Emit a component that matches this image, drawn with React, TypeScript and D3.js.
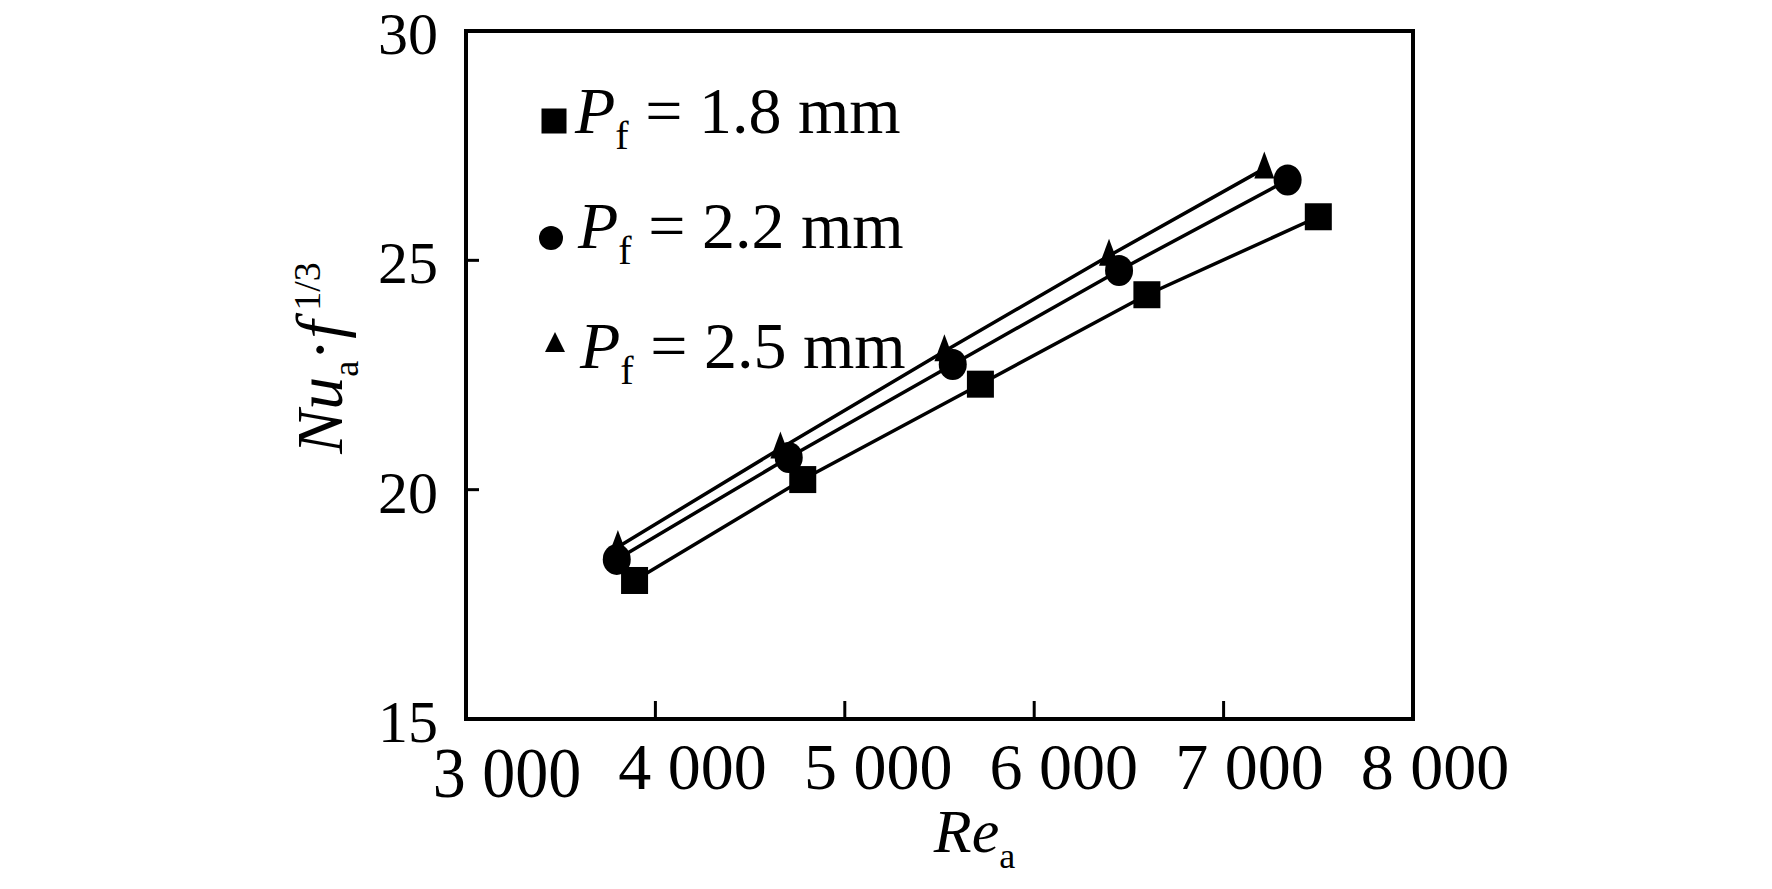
import React from "react";
import * as d3 from "d3";

// Re_a vs Nu_a·f^(1/3) for three fin pitches
const seriesNames = ["1.8", "2.2", "2.5"];
const markerKinds = ["square", "circle", "triangle"];

const reSquare = [3890, 4778, 5716, 6595, 7500];
const nuSquare = [18.02, 20.22, 22.3, 24.25, 25.95];

const reCircle = [3796, 4704, 5570, 6448, 7338];
const nuCircle = [18.48, 20.7, 22.73, 24.78, 26.75];

const reTriangle = [3802, 4660, 5526, 6395, 7215];
const nuTriangle = [18.75, 20.9, 23.02, 25.1, 27.0];

const xTicks = [3000, 4000, 5000, 6000, 7000, 8000];
const xTickLabels = ["3 000", "4 000", "5 000", "6 000", "7 000", "8 000"];
const yTicks = [15, 20, 25, 30];
const yTickLabels = ["15", "20", "25", "30"];

const W = 1772;
const H = 889;
const plot = { left: 466, right: 1413, top: 31, bottom: 719 };
const FONT = "'Liberation Serif', 'Times New Roman', serif";

const x = d3.scaleLinear().domain([3000, 8000]).range([plot.left, plot.right]);
const y = d3.scaleLinear().domain([15, 30]).range([plot.bottom, plot.top]);
// tick labels in the source sit a little right of their ticks
const xLabel = d3.scaleLinear().domain([3000, 8000]).range([x(3000) + 41, x(8000) + 22]);

function Marker({ kind, cx, cy, legend }: { kind: string; cx: number; cy: number; legend?: boolean }) {
  if (kind === "square") {
    const s = legend ? 25 : 27;
    return <rect x={cx - s / 2} y={cy - s / 2} width={s} height={s} fill="#000" />;
  }
  if (kind === "circle") {
    return legend ? <circle cx={cx} cy={cy} r={12} fill="#000" /> : <ellipse cx={cx} cy={cy} rx={14} ry={15.5} fill="#000" />;
  }
  const w = 20;
  const up = legend ? 11 : 17;
  const down = legend ? 9 : 10;
  return <path d={`M${cx},${cy - up}L${cx + w / 2},${cy + down}L${cx - w / 2},${cy + down}Z`} fill="#000" />;
}

export default function App() {
  const series = [
    { kind: "triangle", re: reTriangle, nu: nuTriangle },
    { kind: "circle", re: reCircle, nu: nuCircle },
    { kind: "square", re: reSquare, nu: nuSquare },
  ];
  const line = d3
    .line<[number, number]>()
    .x((d) => x(d[0]))
    .y((d) => y(d[1]));

  const legendBaselines = [133, 248, 368];
  const legendMarkerY = [121, 238, 343];
  const legendMarkerX = [554, 551, 555];
  const legendTextX = [575, 578, 580];

  return (
    <svg width={W} height={H} style={{ position: "absolute", left: 0, top: 0, background: "#fff" }} fontFamily={FONT}>
      <rect width={W} height={H} fill="#fff" />

      {/* data lines */}
      {series.map((s) => (
        <path
          key={"l" + s.kind}
          d={line(s.re.map((r, i) => [r, s.nu[i]] as [number, number])) || ""}
          fill="none"
          stroke="#000"
          strokeWidth={3.5}
        />
      ))}
      {series.map((s) =>
        s.re.map((r, i) => <Marker key={s.kind + i} kind={s.kind} cx={x(r)} cy={y(s.nu[i])} />)
      )}

      {/* frame */}
      <rect
        x={plot.left}
        y={plot.top}
        width={plot.right - plot.left}
        height={plot.bottom - plot.top}
        fill="none"
        stroke="#000"
        strokeWidth={4}
      />
      {xTicks.slice(1, -1).map((t) => (
        <line key={"xt" + t} x1={x(t)} x2={x(t)} y1={plot.bottom} y2={plot.bottom - 18} stroke="#000" strokeWidth={3} />
      ))}
      {yTicks.slice(1, -1).map((t) => (
        <line key={"yt" + t} x1={plot.left} x2={plot.left + 13} y1={y(t)} y2={y(t)} stroke="#000" strokeWidth={3} />
      ))}

      {/* tick labels */}
      {xTicks.map((t, i) =>
        i === 0 ? (
          <text
            key={"xl" + t}
            transform={`translate(${xLabel(t)},797) scale(1,1.08)`}
            textAnchor="middle"
            fontSize={66}
          >
            {xTickLabels[i]}
          </text>
        ) : (
          <text key={"xl" + t} x={xLabel(t)} y={789} textAnchor="middle" fontSize={66}>
            {xTickLabels[i]}
          </text>
        )
      )}
      {yTicks.map((t, i) => (
        <text key={"yl" + t} x={438} y={y(t) + 23} textAnchor="end" fontSize={60}>
          {yTickLabels[i]}
        </text>
      ))}

      {/* axis titles */}
      <text x={x(5500) + 35} y={852} textAnchor="middle" fontSize={62}>
        <tspan fontStyle="italic">Re</tspan>
        <tspan fontSize={36} dy={16}>a</tspan>
      </text>
      <text transform={`translate(342,${(plot.top + plot.bottom) / 2 - 17}) rotate(-90)`} textAnchor="middle" fontSize={66}>
        <tspan fontStyle="italic">Nu</tspan>
        <tspan fontSize={36} dy={16}>a</tspan>
        <tspan dy={-16}>·</tspan>
        <tspan fontStyle="italic">f</tspan>
        <tspan fontSize={38} dy={-22}> 1/3</tspan>
      </text>

      {/* legend */}
      {seriesNames.map((name, i) => (
        <g key={"lg" + name}>
          <Marker kind={markerKinds[i]} cx={legendMarkerX[i]} cy={legendMarkerY[i]} legend />
          <text x={legendTextX[i]} y={legendBaselines[i]} fontSize={66}>
            <tspan fontStyle="italic">P</tspan>
            <tspan fontSize={40} dy={16}>f</tspan>
            <tspan dy={-16}>{` = ${name} mm`}</tspan>
          </text>
        </g>
      ))}
    </svg>
  );
}
